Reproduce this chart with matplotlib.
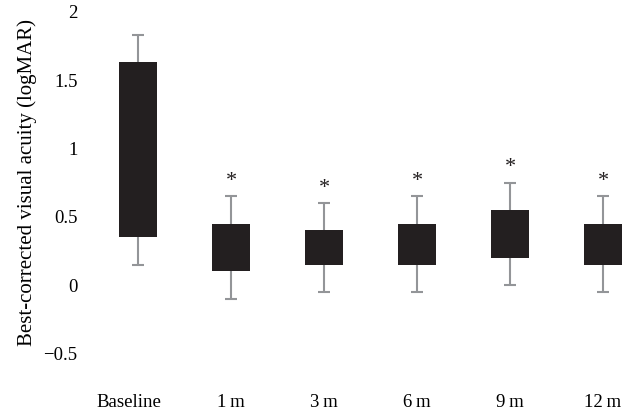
import matplotlib
matplotlib.use("Agg")
import matplotlib.pyplot as plt
import matplotlib.transforms as mtransforms

# Donnees (logMAR)
labels = ["Baseline", "1\u2009m", "3\u2009m", "6\u2009m", "9\u2009m", "12\u2009m"]
box_low = [0.35, 0.10, 0.15, 0.15, 0.20, 0.15]
box_high = [1.63, 0.45, 0.40, 0.45, 0.55, 0.45]
whisk_low = [0.15, -0.10, -0.05, -0.05, 0.00, -0.05]
whisk_high = [1.83, 0.65, 0.60, 0.65, 0.75, 0.65]
signif = [False, True, True, True, True, True]

plt.rcParams["font.family"] = ["Liberation Serif", "DejaVu Serif"]
plt.rcParams["font.size"] = 13.5

BAR = "#231f20"
WHISK = "#939598"

fig = plt.figure(figsize=(6.34, 4.13), dpi=100)
ax = fig.add_axes([90 / 634, (413 - 382) / 413, 540 / 634, 377 / 413])

x = list(range(len(labels)))
mid = [(lo + hi) / 2 for lo, hi in zip(box_low, box_high)]
err_lo = [m - w for m, w in zip(mid, whisk_low)]
err_hi = [w - m for m, w in zip(mid, whisk_high)]

ax.errorbar(x, mid, yerr=[err_lo, err_hi], fmt="none", ecolor=WHISK,
            elinewidth=1.5, capsize=4, capthick=1.5, zorder=1)
ax.bar(x, [hi - lo for lo, hi in zip(box_low, box_high)], bottom=box_low,
       width=0.4, color=BAR, zorder=2)

for xi, top, s in zip(x, whisk_high, signif):
    if s:
        ax.text(xi, top + 0.04, "*", ha="center", va="bottom", color=BAR, fontsize=16)

ax.set_xlim(-0.516, 5.29)
ax.set_ylim(-0.71, 2.05)
ax.set_yticks([-0.5, 0, 0.5, 1, 1.5, 2])
ax.set_yticklabels(["\u22120.5", "0", "0.5", "1", "1.5", "2"])
ax.set_xticks(x)
ax.set_xticklabels(labels)
ax.tick_params(axis="both", length=0)
ax.tick_params(axis="y", pad=9)
ax.tick_params(axis="x", pad=8.5)
for sp in ax.spines.values():
    sp.set_visible(False)

# "Baseline" est un peu decale a gauche sur l'original
lab0 = ax.get_xticklabels()[0]
lab0.set_transform(lab0.get_transform() + mtransforms.ScaledTranslation(-9 / 100, 0, fig.dpi_scale_trans))

ax.set_ylabel("Best-corrected visual acuity (logMAR)", fontsize=15)
ax.yaxis.set_label_coords(-0.098, 0.528)

fig.savefig("out.png", dpi=100)
